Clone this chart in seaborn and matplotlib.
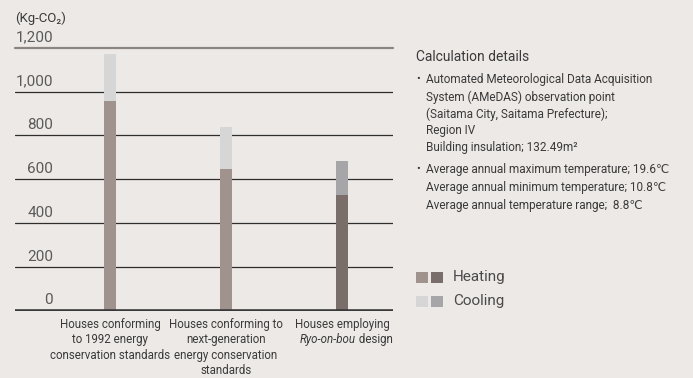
import matplotlib
matplotlib.use("Agg")
import matplotlib.pyplot as plt
from matplotlib.patches import Rectangle
import seaborn as sns
import pandas as pd

# ---- data ----
categories = ["A", "B", "C"]
heating = [955, 647, 528]
cooling = [215, 191, 155]
heating_colors = ["#a0938e", "#a0938e", "#7b6d69"]
cooling_colors = ["#d6d6d6", "#d6d6d6", "#a6a6a9"]
ytick_values = [0, 200, 400, 600, 800, 1000, 1200]
ytick_labels = ["0", "200", "400", "600", "800", "1,000", "1,200"]
cat_labels = [
    "Houses conforming\nto 1992 energy\nconservation standards",
    "Houses conforming to\nnext-generation\nenergy conservation\nstandards",
]
unit_label = "(Kg-CO\u2082)"

totals = [h + c for h, c in zip(heating, cooling)]
df = pd.DataFrame({"cat": categories, "heating": heating, "total": totals})

W, H = 693, 378
BG = "#ede9e6"
sns.set_style("white")
plt.rcParams["font.family"] = ["Roboto", "DejaVu Sans"]

fig = plt.figure(figsize=(W / 100, H / 100), dpi=100, facecolor=BG)
ax = fig.add_axes([15 / W, 1 - 311 / H, (393 - 15) / W, (311 - 47.7) / H])
ax.set_facecolor(BG)

# gridlines (behind bars)
for v in ytick_values:
    if v == 0:
        ax.axhline(v, color="#3a3a3a", lw=2.6, zorder=3)
    elif v == 1200:
        ax.axhline(v, color="#8c8682", lw=1.6, zorder=1, clip_on=False)
    else:
        ax.axhline(v, color="#2e2e2e", lw=0.9, zorder=1)

sns.barplot(data=df, x="cat", y="total", hue="cat", palette=cooling_colors,
            width=0.103, legend=False, ax=ax, zorder=2, saturation=1, linewidth=0)
sns.barplot(data=df, x="cat", y="heating", hue="cat", palette=heating_colors,
            width=0.103, legend=False, ax=ax, zorder=2, saturation=1, linewidth=0)

ax.set_xlim(-0.82, 2.44)
ax.set_ylim(0, 1200)
for s in ax.spines.values():
    s.set_visible(False)
ax.set_xticks([])
ax.set_yticks([])
ax.set_xlabel("")
ax.set_ylabel("")

tick_color = "#5a5a5a"
for v, lab in zip(ytick_values, ytick_labels):
    ax.annotate(lab, xy=(0, v), xycoords=("figure fraction", "data"),
                xytext=(53, 10.5), textcoords="offset pixels",
                ha="right", va="center", fontsize=11, color=tick_color)

fig.text(15 / W, 1 - 18 / H, unit_label, ha="left", va="center",
         fontsize=9.5, color="#3a3a3a")

lab_color = "#3a3a3a"
fs_cat = 8.3
for i, lab in enumerate(cat_labels):
    ax.annotate(lab, xy=(i, 0), xytext=(0, -7), textcoords="offset pixels",
                ha="center", va="top", fontsize=fs_cat, color=lab_color,
                linespacing=1.25)
ax.annotate("Houses employing", xy=(2, 0), xytext=(0, -7), textcoords="offset pixels",
            ha="center", va="top", fontsize=fs_cat, color=lab_color)
ax.annotate("Ryo-on-bou", xy=(2, 0), xytext=(14, -22.5), textcoords="offset pixels",
            ha="right", va="top", fontsize=fs_cat, color=lab_color, style="italic")
ax.annotate(" design", xy=(2, 0), xytext=(14, -22.5), textcoords="offset pixels",
            ha="left", va="top", fontsize=fs_cat, color=lab_color)

# right-side notes
txt_color = "#3a3a3a"
fig.text(416 / W, 1 - 57 / H, "Calculation details", ha="left", va="center",
         fontsize=10, color=txt_color)
block1 = ["Automated Meteorological Data Acquisition",
          "System (AMeDAS) observation point",
          "(Saitama City, Saitama Prefecture);",
          "Region IV",
          "Building insulation; 132.49m\u00b2"]
block2 = ["Average annual maximum temperature; 19.6\u2103",
          "Average annual minimum temperature; 10.8\u2103",
          "Average annual temperature range;  8.8\u2103"]
for k, line in enumerate(block1):
    fig.text(426 / W, 1 - (80 + 17 * k) / H, line, ha="left", va="center",
             fontsize=8.5, color=txt_color)
for k, line in enumerate(block2):
    fig.text(426 / W, 1 - (170 + 17.5 * k) / H, line, ha="left", va="center",
             fontsize=8.5, color=txt_color)
for y in (79, 169):
    fig.text(416 / W, 1 - y / H, "\u2022", ha="left", va="center",
             fontsize=8, color=txt_color)

# legend
leg_items = [("Heating", heating_colors[0], heating_colors[2], 277),
             ("Cooling", cooling_colors[0], cooling_colors[2], 301)]
for name, c1, c2, yc in leg_items:
    for x0, c in ((416, c1), (431, c2)):
        fig.patches.append(Rectangle((x0 / W, 1 - (yc + 6) / H), 11.5 / W, 11.5 / H,
                                     transform=fig.transFigure, color=c, lw=0))
    fig.text(453 / W, 1 - yc / H, name, ha="left", va="center",
             fontsize=11, color="#4a4a4a")

fig.savefig("out.png", dpi=100, facecolor=BG)
